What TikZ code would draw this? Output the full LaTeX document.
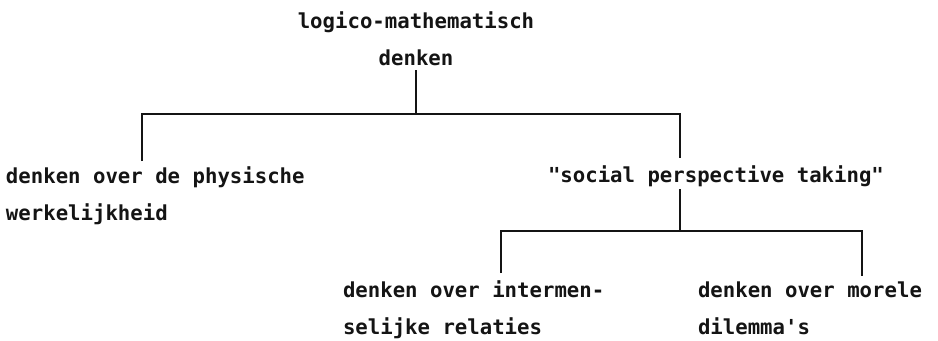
\documentclass[tikz,border=0pt]{standalone}
\usepackage{fontspec}
\setmonofont{DejaVu Sans Mono}
\definecolor{TypeInk}{HTML}{141414}
\usetikzlibrary{calc,positioning}

\begin{document}
\begin{tikzpicture}[x=0.75pt,y=-0.75pt,
  typed/.style={inner sep=0pt,outer sep=0pt,text=TypeInk,
    font=\ttfamily\bfseries\fontsize{15.5pt}{27.75pt}\selectfont},
  link/.style={draw=TypeInk,line width=1.6pt}]
  \useasboundingbox (0,0) rectangle (938,340);
  \node[typed,align=center,anchor=base] (logic) at (416,65) {logico-mathematisch\\denken};
  \node[typed,align=left,anchor=base west] (phys) at (6,220) {denken over de physische\\werkelijkheid};
  \node[typed,anchor=base west] (social) at (548,182) {"social perspective taking"};
  \node[typed,align=left,anchor=base west] (inter) at (343,334) {denken over intermen-\\selijke relaties};
  \node[typed,align=left,anchor=base west] (moral) at (698,334) {denken over morele\\dilemma's};
  \draw[link] ($(logic.south)+(0,5)$) -- (logic.south |- 0,114) coordinate (t1);
  \draw[link] ($(phys.north west)+(136,-5)$) |- (t1) -| ($(social.north west)+(132,-7)$);
  \draw[link] ($(social.south west)+(132,3)$) -- ($(social.south west)+(132,45)$) coordinate (t2);
  \draw[link] ($(inter.north west)+(158,-7)$) |- (t2) -| ($(moral.north west)+(164,-5)$);
\end{tikzpicture}
\end{document}
